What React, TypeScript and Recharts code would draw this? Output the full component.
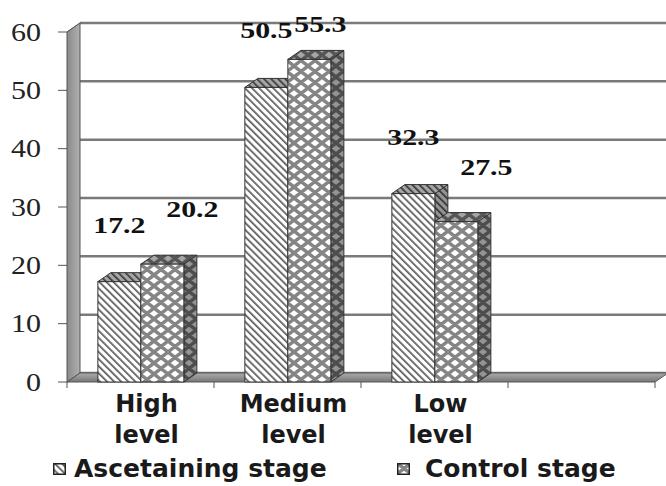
import React from "react"
import { BarChart, Bar, XAxis, YAxis, CartesianGrid, ReferenceArea, Legend, LabelList } from "recharts"

// values
const categories = ["High level", "Medium level", "Low level", ""]
const ascertaining = [17.2, 50.5, 32.3, null]
const control = [20.2, 55.3, 27.5, null]
const yTicks = [0, 10, 20, 30, 40, 50, 60]
const seriesNames = ["Ascetaining stage", "Control stage"]

const data = categories.map((name, i) => ({ name, asc: ascertaining[i], ctrl: control[i] }))

// depth of the fake 3d
const DX = 13
const DY = 9
const SERIF = '"Liberation Serif", "Times New Roman", Times, serif'
const SANS = '"DejaVu Sans", sans-serif'

function Bar3D(props: any) {
  const { x, y, width: w, height: h, patternId } = props
  if (h == null || h <= 0 || isNaN(y)) return null
  const side = `${x + w},${y} ${x + w + DX},${y - DY} ${x + w + DX},${y + h - DY} ${x + w},${y + h}`
  const top = `${x},${y} ${x + DX},${y - DY} ${x + w + DX},${y - DY} ${x + w},${y}`
  const fill = `url(#${patternId})`
  return (
    <g>
      <polygon points={side} fill={fill} />
      <polygon points={side} fill="#000" fillOpacity={0.42} stroke="#333" strokeWidth={1} />
      <polygon points={top} fill={fill} />
      <polygon points={top} fill="#000" fillOpacity={0.35} stroke="#333" strokeWidth={1} />
      <rect x={x} y={y} width={w} height={h} fill={fill} stroke="#333" strokeWidth={1} />
    </g>
  )
}

function ValueLabel(props: any) {
  const { x, y, width, value, second } = props
  if (value == null) return null
  let cx = x + width / 2 + (second ? 30 : 0)
  let cy = y - (second ? 55 : 57)
  if (cy < 24) {
    cy = 24
    if (second) cx = x + width / 2 + 11
  }
  return (
    <text
      x={cx}
      y={cy}
      dy="0.35em"
      textAnchor="middle"
      style={{ fontFamily: SERIF, fontWeight: "bold", fontSize: 23 }}
      fill="#111"
      transform={`translate(${cx} 0) scale(1.3 1) translate(${-cx} 0)`}
    >
      {value.toFixed(1)}
    </text>
  )
}

function YTick({ x, y, payload }: any) {
  return (
    <text
      x={x}
      y={y}
      dy="0.35em"
      textAnchor="end"
      style={{ fontFamily: SERIF, fontSize: 25 }}
      fill="#222"
      transform={`translate(${x} 0) scale(1.2 1) translate(${-x} 0)`}
    >
      {payload.value}
    </text>
  )
}

function XTick({ x, y, payload }: any) {
  const words = String(payload.value).split(" ").filter(Boolean)
  return (
    <text textAnchor="middle" style={{ fontFamily: SANS, fontWeight: "bold", fontSize: 24 }} fill="#1a1a1a">
      {words.map((w, i) => (
        <tspan key={i} x={x + 6} y={y + 30 + i * 31}>
          {w}
        </tspan>
      ))}
    </text>
  )
}

function GridLine(props: any) {
  const { x1, x2, y1 } = props
  return (
    <g>
      <line x1={x1} y1={y1} x2={x1 + DX} y2={y1 - DY} stroke="#555" strokeWidth={1} />
      <line x1={x1 + DX} y1={y1 - DY} x2={x2 + DX} y2={y1 - DY} stroke="#7a7a7a" strokeWidth={2.5} />
    </g>
  )
}

// left wall + floor, drawn from the plot rect the library hands us
function WallAndFloor(props: any) {
  const { x, y, width: w, height: h } = props
  const b = y + h
  const n = categories.length
  return (
    <g>
      <polygon
        points={`${x},${y} ${x + DX},${y - DY} ${x + DX},${b - DY} ${x},${b}`}
        fill="url(#wallGrad)"
        stroke="#555"
        strokeWidth={1}
      />
      <polygon
        points={`${x},${b} ${x + DX},${b - DY} ${x + w + DX},${b - DY} ${x + w},${b}`}
        fill="url(#floorGrad)"
        stroke="#555"
        strokeWidth={1}
      />
      {categories.concat([""]).map((_, i) => (
        <line key={i} x1={x + (i * w) / n} y1={b} x2={x + (i * w) / n} y2={b + 6} stroke="#555" />
      ))}
    </g>
  )
}

function LegendBox() {
  const items = [
    { name: seriesNames[0], pat: "ascPat", mark: 53, text: 74 },
    { name: seriesNames[1], pat: "ctrlPat", mark: 397, text: 425 },
  ]
  return (
    <div
      style={{
        position: "relative",
        width: 666,
        height: 34,
        fontFamily: SANS,
        fontWeight: "bold",
        fontSize: 25,
        lineHeight: "34px",
        color: "#1a1a1a",
      }}
    >
      {items.map((it) => (
        <React.Fragment key={it.name}>
          <svg width={13} height={12} style={{ position: "absolute", left: it.mark, top: 11 }}>
            <rect x={0.75} y={0.75} width={11.5} height={10.5} fill={`url(#${it.pat})`} stroke="#222" strokeWidth={1.5} />
          </svg>
          <span style={{ position: "absolute", left: it.text, top: 0, whiteSpace: "nowrap" }}>{it.name}</span>
        </React.Fragment>
      ))}
    </div>
  )
}

export default function App() {
  return (
    <div style={{ width: 666, height: 486, background: "#fff" }}>
      <style>{"body{margin:0}"}</style>
      <BarChart
        width={666}
        height={486}
        data={data}
        margin={{ top: 32, right: 11, bottom: 0, left: 0 }}
        barCategoryGap="21%"
        barGap={0}
      >
        <defs>
          <pattern id="ascPat" patternUnits="userSpaceOnUse" width={5} height={5} patternTransform="rotate(-45)">
            <rect width={5} height={5} fill="#fff" />
            <rect x={0} y={0} width={1.7} height={5} fill="#5a5a5a" />
          </pattern>
          <pattern id="ctrlPat" patternUnits="userSpaceOnUse" width={14} height={11}>
            <rect width={14} height={11} fill="#fff" />
            <path
              d="M-7,-16.5 L21,5.5 M-7,-5.5 L21,16.5 M-7,5.5 L21,27.5 M-7,5.5 L21,-16.5 M-7,16.5 L21,-5.5 M-7,27.5 L21,5.5"
              stroke="#858585"
              strokeWidth={3.4}
              fill="none"
            />
          </pattern>
          <linearGradient id="wallGrad" x1="0" x2="1" y1="0" y2="0">
            <stop offset="0" stopColor="#8a8a8a" />
            <stop offset="1" stopColor="#b0b0b0" />
          </linearGradient>
          <linearGradient id="floorGrad" x1="0" x2="0" y1="0" y2="1">
            <stop offset="0" stopColor="#ababab" />
            <stop offset="1" stopColor="#777" />
          </linearGradient>
        </defs>
        <ReferenceArea y1={0} y2={60} shape={WallAndFloor} ifOverflow="visible" />
        <CartesianGrid vertical={false} horizontal={GridLine} />
        <XAxis dataKey="name" axisLine={false} tickLine={false} tickSize={0} tickMargin={0} height={70} tick={XTick} interval={0} />
        <YAxis
          type="number"
          domain={[0, 60]}
          ticks={yTicks}
          width={67}
          axisLine={false}
          tickLine={{ stroke: "#555" }}
          tickSize={9}
          tickMargin={17}
          tick={YTick}
        />
        <Legend verticalAlign="bottom" wrapperStyle={{ left: 0, width: 666 }} content={LegendBox} />
        <Bar dataKey="asc" name={seriesNames[0]} isAnimationActive={false} shape={(p: any) => <Bar3D {...p} patternId="ascPat" />}>
          <LabelList dataKey="asc" content={(p: any) => <ValueLabel {...p} />} />
        </Bar>
        <Bar dataKey="ctrl" name={seriesNames[1]} isAnimationActive={false} shape={(p: any) => <Bar3D {...p} patternId="ctrlPat" />}>
          <LabelList dataKey="ctrl" content={(p: any) => <ValueLabel {...p} second />} />
        </Bar>
      </BarChart>
    </div>
  )
}
